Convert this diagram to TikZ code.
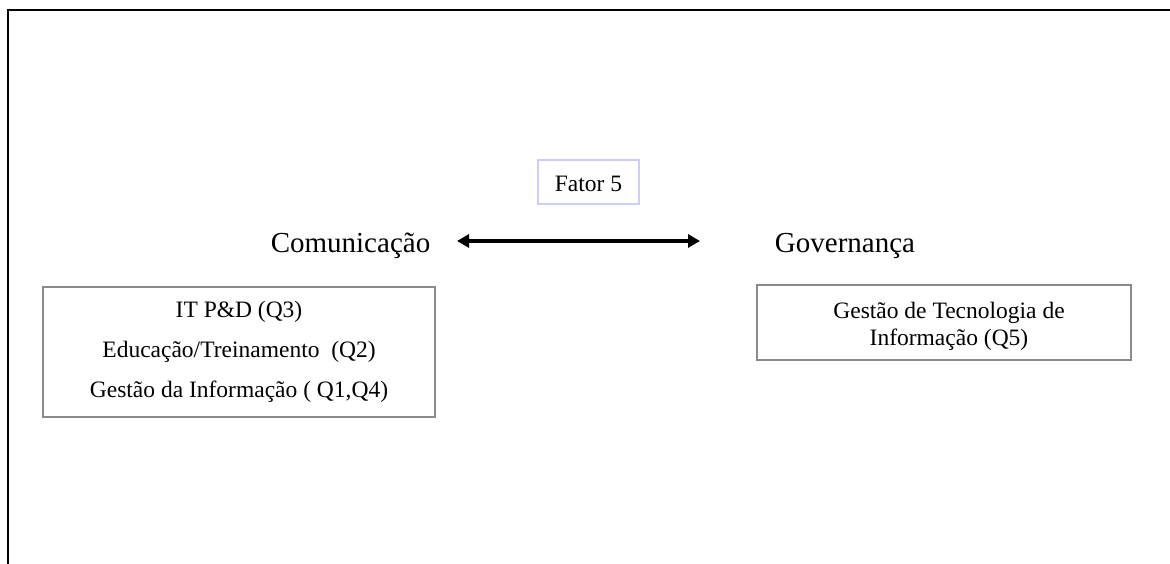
\documentclass[tikz,border=0pt]{standalone}
\usepackage{fontspec}
\setmainfont{Liberation Serif}
\usetikzlibrary{arrows.meta}
\definecolor{boxgray}{HTML}{8A8A8A}
\definecolor{lavender}{HTML}{CCCCFF}
\begin{document}
\begin{tikzpicture}[x=1pt,y=-1pt,
  label/.style={inner sep=0pt,anchor=base,font=\fontsize{29}{34}\selectfont},
  itemtext/.style={inner sep=0pt,anchor=base,font=\fontsize{23.5}{28}\selectfont},
  framebox/.style={draw=boxgray,line width=1.3pt,inner sep=0pt},
  link/.style={line width=3.4pt,{Triangle[length=12pt,width=13pt]}-{Triangle[length=12pt,width=13pt]}}]
\useasboundingbox (0,0) rectangle (1170,564);
% outer frame (top and left edges only)
\draw[line width=2.2pt] (8,564) -- (8,10) -- (1170,10);

% factor tag
\node[draw=lavender,line width=1.2pt,minimum width=101pt,minimum height=44pt,inner sep=0pt]
  (fator) at (588.5,182) {};
\node[itemtext] (fatortxt) at (588.5,192) {Fator 5};

% the two dimensions
\node[label] (com) at (350.5,252) {Comunicação};
\node[label] (gov) at (845,252) {Governança};
\coordinate (aL) at (457,241);
\coordinate (aR) at (700,241);
\draw[link] (aL) -- (aR);

% left item box
\node[framebox,minimum width=392pt,minimum height=130pt] (lbox) at (239,352) {};
\node[itemtext] (l1) at (239,317) {IT P\&D (Q3)};
\node[itemtext] (l2) at (239,357) {Educação/Treinamento\ \ (Q2)};
\node[itemtext] (l3) at (239,397) {Gestão da Informação ( Q1,Q4)};

% right item box
\node[framebox,minimum width=374pt,minimum height=75pt] (rbox) at (944,322.5) {};
\node[itemtext] (r1) at (949,318) {Gestão de Tecnologia de};
\node[itemtext] (r2) at (949,345) {Informação (Q5)};
\end{tikzpicture}
\end{document}
